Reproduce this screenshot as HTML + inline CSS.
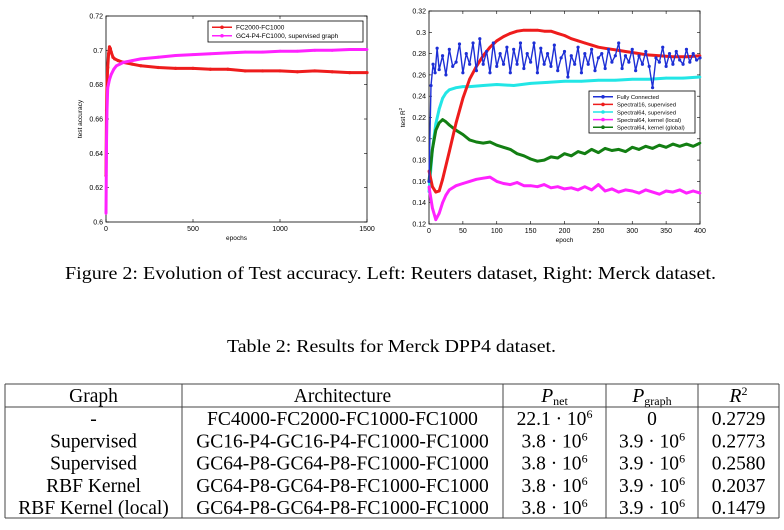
<!DOCTYPE html>
<html><head><meta charset="utf-8"><style>
html,body{margin:0;padding:0;background:#fff;}
svg{display:block;font-family:"Liberation Sans",sans-serif;}
.serif{font-family:"Liberation Serif",serif;}
</style></head><body>
<svg id="root" width="784" height="530" viewBox="0 0 784 530">
<g id="left"></g>
<g id="right"></g>
<text class="serif" x="65" y="279" font-size="17.5" textLength="651" lengthAdjust="spacingAndGlyphs">Figure 2: Evolution of Test accuracy. Left: Reuters dataset, Right: Merck dataset.</text>
<text class="serif" x="227" y="352" font-size="17.5" textLength="329" lengthAdjust="spacingAndGlyphs">Table 2: Results for Merck DPP4 dataset.</text>
<g id="table" class="serif"></g>
</svg>
<script>
// ---------- LEFT CHART DATA ----------
const leftXTicks = [0, 500, 1000, 1500];
const leftYTicks = [0.6, 0.62, 0.64, 0.66, 0.68, 0.7, 0.72];
const leftYTickLabels = ["0.6", "0.62", "0.64", "0.66", "0.68", "0.7", "0.72"];
const fcEpochs = [0, 3, 6, 10, 15, 20, 25, 30, 40, 50, 70, 100, 150, 200, 300, 400, 500, 600, 700, 800, 900, 1000, 1100, 1200, 1300, 1400, 1500];
const fcAcc = [0.627, 0.665, 0.68, 0.69, 0.698, 0.702, 0.701, 0.699, 0.696, 0.695, 0.694, 0.693, 0.692, 0.691, 0.690, 0.6895, 0.6895, 0.689, 0.689, 0.688, 0.688, 0.688, 0.6875, 0.688, 0.6875, 0.687, 0.687];
const gcEpochs = [0, 3, 6, 10, 20, 30, 45, 60, 80, 100, 150, 200, 300, 400, 500, 600, 700, 800, 900, 1000, 1100, 1200, 1300, 1400, 1500];
const gcAcc = [0.605, 0.646, 0.665, 0.678, 0.683, 0.686, 0.689, 0.691, 0.692, 0.693, 0.694, 0.695, 0.696, 0.697, 0.6975, 0.698, 0.6985, 0.699, 0.699, 0.6995, 0.6995, 0.700, 0.700, 0.7005, 0.7005];

// ---------- RIGHT CHART DATA ----------
const rightXTicks = [0, 50, 100, 150, 200, 250, 300, 350, 400];
const rightYTicks = [0.12, 0.14, 0.16, 0.18, 0.2, 0.22, 0.24, 0.26, 0.28, 0.3, 0.32];
const rightYTickLabels = ["0.12", "0.14", "0.16", "0.18", "0.2", "0.22", "0.24", "0.26", "0.28", "0.3", "0.32"];
const fullEpochs = [0,3,6,9,12,15,20,25,30,35,40,45,50,55,60,65,70,75,80,85,90,95,100,105,110,115,120,125,130,135,140,145,150,155,160,165,170,175,180,185,190,195,200,205,210,215,220,225,230,235,240,245,250,255,260,265,270,275,280,285,290,295,300,305,310,315,320,325,330,335,340,345,350,355,360,365,370,375,380,385,390,395,400];
const fullR2 = [0.16,0.25,0.27,0.262,0.285,0.265,0.278,0.26,0.284,0.268,0.272,0.289,0.262,0.28,0.27,0.29,0.264,0.294,0.27,0.282,0.262,0.29,0.268,0.28,0.27,0.286,0.262,0.284,0.27,0.29,0.266,0.28,0.272,0.29,0.262,0.285,0.27,0.28,0.268,0.288,0.264,0.276,0.282,0.258,0.278,0.27,0.286,0.262,0.28,0.27,0.284,0.264,0.276,0.28,0.266,0.284,0.272,0.278,0.29,0.266,0.278,0.272,0.284,0.264,0.278,0.27,0.282,0.268,0.248,0.276,0.272,0.286,0.268,0.28,0.27,0.282,0.274,0.27,0.284,0.272,0.28,0.274,0.276];
const specSupEpochs = [0,5,10,15,20,30,40,50,60,70,80,90,100,110,120,130,140,150,160,170,180,190,200,210,220,230,240,250,260,270,280,290,300,320,340,360,380,400];
const specSupR2 = [0.17,0.155,0.15,0.151,0.162,0.188,0.215,0.238,0.256,0.268,0.278,0.286,0.292,0.296,0.299,0.301,0.302,0.302,0.302,0.301,0.301,0.299,0.297,0.294,0.292,0.29,0.288,0.286,0.285,0.284,0.283,0.282,0.281,0.279,0.278,0.277,0.277,0.278];
const spec64Epochs = [0,5,10,15,20,25,30,40,50,60,80,100,125,150,175,200,225,250,275,300,325,350,375,400];
const spec64R2 = [0.15,0.19,0.214,0.228,0.238,0.243,0.246,0.248,0.249,0.249,0.25,0.251,0.25,0.252,0.253,0.254,0.254,0.255,0.255,0.256,0.256,0.257,0.257,0.258];
const localEpochs = [0,5,10,15,20,25,30,40,50,60,70,80,90,100,110,120,130,140,150,160,170,180,190,200,210,220,230,240,250,260,270,280,290,300,310,320,330,340,350,360,370,380,390,400];
const localR2 = [0.155,0.135,0.124,0.13,0.14,0.147,0.152,0.156,0.158,0.16,0.162,0.163,0.164,0.16,0.158,0.157,0.159,0.156,0.156,0.155,0.157,0.154,0.155,0.153,0.154,0.152,0.155,0.152,0.157,0.151,0.153,0.15,0.152,0.151,0.149,0.152,0.15,0.148,0.151,0.15,0.152,0.149,0.151,0.149];
const globalEpochs = [0,5,10,15,20,25,30,40,50,60,70,80,90,100,110,120,130,140,150,160,170,180,190,200,210,220,230,240,250,260,270,280,290,300,310,320,330,340,350,360,370,380,390,400];
const globalR2 = [0.16,0.19,0.208,0.215,0.218,0.216,0.213,0.208,0.204,0.199,0.197,0.196,0.197,0.194,0.192,0.19,0.186,0.184,0.181,0.179,0.18,0.183,0.182,0.186,0.184,0.188,0.186,0.19,0.187,0.191,0.189,0.19,0.188,0.192,0.19,0.193,0.191,0.194,0.192,0.195,0.193,0.195,0.193,0.196];

const NS = "http://www.w3.org/2000/svg";
function mk(tag, attrs, parent) {
  const e = document.createElementNS(NS, tag);
  for (const k in attrs) e.setAttribute(k, attrs[k]);
  parent.appendChild(e);
  return e;
}
function linScale(d0, d1, r0, r1) { return v => r0 + (v - d0) / (d1 - d0) * (r1 - r0); }

function drawAxes(g, box, xs, ys, xTicks, yTicks, yLabels, xTitle, yTitle) {
  const frame = mk("rect", {x: box.l, y: box.t, width: box.r - box.l, height: box.b - box.t, fill: "none", stroke: "#000", "stroke-width": 0.8}, g);
  
  
  xTicks.forEach(v => {
    const x = xs(v);
    mk("line", {x1: x, x2: x, y1: box.b, y2: box.b - 3, stroke: "#000", "stroke-width": 0.6}, g);
    mk("line", {x1: x, x2: x, y1: box.t, y2: box.t + 3, stroke: "#000", "stroke-width": 0.6}, g);
    const t = mk("text", {x: x, y: box.b + 9, "font-size": 7, "text-anchor": "middle"}, g);
    t.textContent = String(v);
    
    
  });
  yTicks.forEach((v, i) => {
    const y = ys(v);
    mk("line", {x1: box.l, x2: box.l + 3, y1: y, y2: y, stroke: "#000", "stroke-width": 0.6}, g);
    mk("line", {x1: box.r, x2: box.r - 3, y1: y, y2: y, stroke: "#000", "stroke-width": 0.6}, g);
    const t = mk("text", {x: box.l - 3, y: y + 2.5, "font-size": 7, "text-anchor": "end"}, g);
    t.textContent = yLabels[i];
    
    
  });
  const xt = mk("text", {x: (box.l + box.r) / 2, y: box.b + 18, "font-size": 6.5, "text-anchor": "middle"}, g);
  xt.textContent = xTitle;
  
  
  const yt = mk("text", {x: 0, y: 0, "font-size": 6.5, "text-anchor": "middle", transform: `translate(${box.l - 24},${(box.t + box.b) / 2}) rotate(-90)`}, g);
  yt.innerHTML = yTitle;
  
  
}

function drawSeries(g, xs, ys, xv, yv, color, name, width, marker) {
  const pts = xv.map((x, i) => xs(x).toFixed(1) + "," + ys(yv[i]).toFixed(1)).join(" ");
  const pl = mk("polyline", {points: pts, fill: "none", stroke: color, "stroke-width": width, "stroke-linejoin": "round"}, g);
  
  
  xv.forEach((x, i) => {
    const c = mk("circle", {cx: xs(x), cy: ys(yv[i]), r: marker, fill: color}, g);
    
    
  });
}

function legend(g, x, y, w, rowH, entries, fs) {
  const box = mk("rect", {x: x, y: y, width: w, height: rowH * entries.length + 4, fill: "#fff", stroke: "#000", "stroke-width": 0.8}, g);
  
  
  entries.forEach((e, i) => {
    const cy = y + 2 + rowH * (i + 0.5);
    mk("line", {x1: x + 4, x2: x + 24, y1: cy, y2: cy, stroke: e[1], "stroke-width": 1.5}, g);
    mk("circle", {cx: x + 14, cy: cy, r: 1.8, fill: e[1]}, g);
    const t = mk("text", {x: x + 28, y: cy + 2.3, "font-size": fs}, g);
    t.textContent = e[0];
    
    
  });
}

// Left chart
(function () {
  const g = document.getElementById("left");
  const box = {l: 106, r: 367, t: 16, b: 222};
  const xs = linScale(0, 1500, box.l, box.r);
  const ys = linScale(0.6, 0.72, box.b, box.t);
  drawAxes(g, box, xs, ys, leftXTicks, leftYTicks, leftYTickLabels, "epochs", "test accuracy");
  drawSeries(g, xs, ys, fcEpochs, fcAcc, "#ee1c1c", "fc2000-fc1000-line", 3, 1.6);
  drawSeries(g, xs, ys, gcEpochs, gcAcc, "#ff22ff", "gc4-p4-fc1000-line", 3, 1.4);
  legend(g, 208, 21, 155, 8.5, [["FC2000-FC1000", "#ee1c1c"], ["GC4-P4-FC1000, supervised graph", "#ff22ff"]], 6.5);
})();

// Right chart
(function () {
  const g = document.getElementById("right");
  const box = {l: 429, r: 700, t: 11, b: 224};
  const xs = linScale(0, 400, box.l, box.r);
  const ys = linScale(0.12, 0.32, box.b, box.t);
  drawAxes(g, box, xs, ys, rightXTicks, rightYTicks, rightYTickLabels, "epoch", "test R<tspan font-size='4.5' dy='-3'>2</tspan>");
  drawSeries(g, xs, ys, spec64Epochs, spec64R2, "#22e6e6", "spectral64-supervised-line", 3, 1.3);
  drawSeries(g, xs, ys, globalEpochs, globalR2, "#137f13", "spectral64-kernel-global-line", 3, 1.3);
  drawSeries(g, xs, ys, localEpochs, localR2, "#ff22ff", "spectral64-kernel-local-line", 3, 1.3);
  drawSeries(g, xs, ys, specSupEpochs, specSupR2, "#ee1c1c", "spectral16-supervised-line", 3, 1.3);
  drawSeries(g, xs, ys, fullEpochs, fullR2, "#1d2fd6", "fully-connected-line", 1.4, 1.6);
  legend(g, 589, 91, 106, 7.6, [["Fully Connected", "#1d2fd6"], ["Spectral16, supervised", "#ee1c1c"], ["Spectral64, supervised", "#22e6e6"], ["Spectral64, kernel (local)", "#ff22ff"], ["Spectral64, kernel (global)", "#137f13"]], 5.8);
})();

// Table
(function () {
  const g = document.getElementById("table");
  const cols = [5, 182, 503, 606, 698, 779];
  const lineAttrs = {stroke: "#444", "stroke-width": 1};
  [384, 407, 518].forEach(y => mk("line", Object.assign({x1: cols[0], x2: cols[5], y1: y, y2: y}, lineAttrs), g));
  cols.forEach(x => mk("line", Object.assign({x1: x, x2: x, y1: 384, y2: 518}, lineAttrs), g));
  const header = ["Graph", "Architecture", "P<tspan font-size='12' font-style='normal' dy='3'>net</tspan>", "P<tspan font-size='12' font-style='normal' dy='3'>graph</tspan>", "R<tspan font-size='12' font-style='normal' dy='-7'>2</tspan>"];
  header.forEach((h, i) => {
    const t = mk("text", {x: (cols[i] + cols[i + 1]) / 2, y: 402, "font-size": 19.5, "text-anchor": "middle", "font-style": i >= 2 ? "italic" : "normal"}, g);
    t.innerHTML = h;
    
    
  });
  const rows = [
    ["-", "FC4000-FC2000-FC1000-FC1000", "22.1 · 10<tspan font-size='12' dy='-7'>6</tspan>", "0", "0.2729"],
    ["Supervised", "GC16-P4-GC16-P4-FC1000-FC1000", "3.8 · 10<tspan font-size='12' dy='-7'>6</tspan>", "3.9 · 10<tspan font-size='12' dy='-7'>6</tspan>", "0.2773"],
    ["Supervised", "GC64-P8-GC64-P8-FC1000-FC1000", "3.8 · 10<tspan font-size='12' dy='-7'>6</tspan>", "3.9 · 10<tspan font-size='12' dy='-7'>6</tspan>", "0.2580"],
    ["RBF Kernel", "GC64-P8-GC64-P8-FC1000-FC1000", "3.8 · 10<tspan font-size='12' dy='-7'>6</tspan>", "3.9 · 10<tspan font-size='12' dy='-7'>6</tspan>", "0.2037"],
    ["RBF Kernel (local)", "GC64-P8-GC64-P8-FC1000-FC1000", "3.8 · 10<tspan font-size='12' dy='-7'>6</tspan>", "3.9 · 10<tspan font-size='12' dy='-7'>6</tspan>", "0.1479"]
  ];
  rows.forEach((r, ri) => {
    const y = 425 + ri * 22.3;
    r.forEach((c, i) => {
      const t = mk("text", {x: (cols[i] + cols[i + 1]) / 2, y: y, "font-size": 19.5, "text-anchor": "middle"}, g);
      t.innerHTML = c;
      
      
    });
  });
})();
</script>
</body></html>
